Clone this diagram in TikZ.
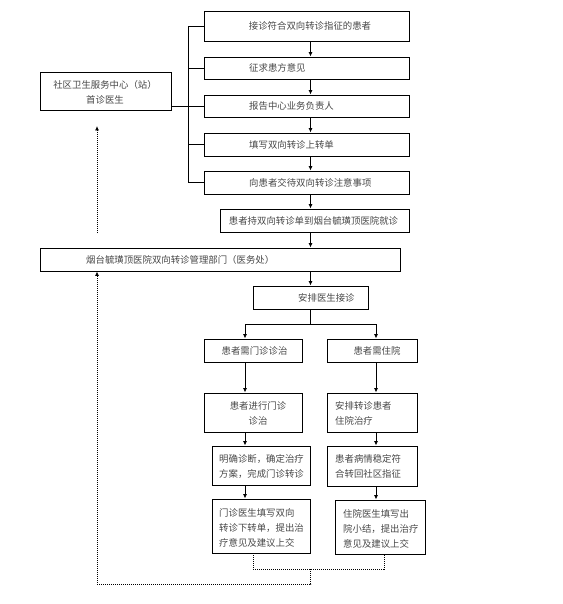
\documentclass[tikz,border=0pt]{standalone}
\usepackage{fontspec}
\newfontfamily\cjk{Noto Sans CJK SC}
\usetikzlibrary{arrows.meta,positioning}

\begin{document}
\begin{tikzpicture}[x=1pt,y=-1pt]
\tikzset{
  stepbox/.style={draw=black,line width=0.9pt,inner sep=0pt},
  boxtext/.style={font=\cjk\fontsize{9.4}{15}\selectfont,text=black!72,inner sep=0pt,align=left},
  link/.style={draw=black,line width=0.9pt},
  flow/.style={link,-{Latex[length=4.5pt,width=4pt]}},
  back/.style={draw=black,line width=0.8pt,dash pattern=on 1pt off 1pt},
  backflow/.style={back,-{Latex[length=4.5pt,width=4pt]}}
}
\useasboundingbox (0,0) rectangle (562,604);
% upper chain (community side)
\node[stepbox,minimum width=131pt,minimum height=38pt] (b0) at (105.5,91) {};
\node[stepbox,minimum width=205pt,minimum height=30pt] (b1) at (306.5,26) {};
\node[stepbox,minimum width=205pt,minimum height=22pt] (b2) at (306.5,68) {};
\node[stepbox,minimum width=205pt,minimum height=22pt] (b3) at (306.5,106) {};
\node[stepbox,minimum width=205pt,minimum height=23pt] (b4) at (306.5,144.5) {};
\node[stepbox,minimum width=205pt,minimum height=23pt] (b5) at (306.5,182.5) {};
\node[stepbox,minimum width=189pt,minimum height=23pt] (b6) at (314.5,220.5) {};
\node[stepbox,minimum width=360pt,minimum height=23pt] (b7) at (220,259.5) {};
\node[stepbox,minimum width=115pt,minimum height=23pt] (b8) at (310.5,297.5) {};
% two branches
\node[stepbox,minimum width=98pt,minimum height=23pt] (b9) at (253,350.5) {};
\node[stepbox,minimum width=90pt,minimum height=23pt] (b10) at (372,350.5) {};
\node[stepbox,minimum width=98pt,minimum height=39pt] (b11) at (253,412.5) {};
\node[stepbox,minimum width=90pt,minimum height=39pt] (b12) at (372,412.5) {};
\node[stepbox,minimum width=98pt,minimum height=39pt] (b13) at (261,465.5) {};
\node[stepbox,minimum width=90pt,minimum height=40pt] (b14) at (372,466) {};
\node[stepbox,minimum width=98pt,minimum height=54pt] (b15) at (261,526) {};
\node[stepbox,minimum width=90pt,minimum height=54pt] (b16) at (380,527) {};
% texts
\node[boxtext,align=center] (t0) at (105,92) {社区卫生服务中心（站）\\首诊医生};
\node[boxtext] (t1) at (310,26) {接诊符合双向转诊指征的患者};
\node[boxtext,anchor=west] (t2) at (249,68) {征求患方意见};
\node[boxtext,anchor=west] (t3) at (249,106) {报告中心业务负责人};
\node[boxtext,anchor=west] (t4) at (249,144.5) {填写双向转诊上转单};
\node[boxtext,anchor=west] (t5) at (249,182.5) {向患者交待双向转诊注意事项};
\node[boxtext] (t6) at (313.5,220.5) {患者持双向转诊单到烟台毓璜顶医院就诊};
\node[boxtext,anchor=west] (t7) at (86,259.5) {烟台毓璜顶医院双向转诊管理部门（医务处）};
\node[boxtext,anchor=west] (t8) at (298,297.5) {安排医生接诊};
\node[boxtext] (t9) at (254.5,350.5) {患者需门诊诊治};
\node[boxtext] (t10) at (377,350.5) {患者需住院};
\node[boxtext,align=center] (t11) at (258,413.5) {患者进行门诊\\诊治};
\node[boxtext,anchor=west] (t12) at (335,413.5) {安排转诊患者\\住院治疗};
\node[boxtext,anchor=west] (t13) at (219,466.5) {明确诊断，确定治疗\\方案，完成门诊转诊};
\node[boxtext,anchor=west] (t14) at (335,466.5) {患者病情稳定符\\合转回社区指征};
\node[boxtext,anchor=west] (t15) at (219,528) {门诊医生填写双向\\转诊下转单，提出治\\疗意见及建议上交};
\node[boxtext,anchor=west] (t16) at (343,529) {住院医生填写出\\院小结，提出治疗\\意见及建议上交};
% helper columns
\coordinate (brk) at (188,0);
\coordinate (spine) at (310.5,0);
\coordinate (lcol) at (245,0);
\coordinate (rcol) at (376,0);
\coordinate (dcol) at (97,0);
\coordinate (fork) at (310.5,324.3);
% bracket to the community box
\draw[link] (b1.west) -- (b1.west -| brk) -- (b5.west -| brk) -- (b5.west);
\draw[link] (b2.west -| brk) -- (b2.west);
\draw[link] (b4.west -| brk) -- (b4.west);
\draw[link] (b0.east |- b3.west) -- (b3.west);
% main arrows
\draw[flow] (b1.south -| spine) -- (b2.north -| spine);
\draw[flow] (b2.south -| spine) -- (b3.north -| spine);
\draw[flow] (b3.south -| spine) -- (b4.north -| spine);
\draw[flow] (b4.south -| spine) -- (b5.north -| spine);
\draw[flow] (b5.south -| spine) -- (b6.north -| spine);
\draw[flow] (b6.south -| spine) -- (b7.north -| spine);
\draw[flow] (b7.south -| spine) -- (b8.north -| spine);
\draw[link] (b8.south -| spine) -- (fork);
\draw[flow] (fork) -| (b9.north -| lcol);
\draw[flow] (fork) -| (b10.north -| rcol);
\draw[flow] (b9.south -| lcol) -- (b11.north -| lcol);
\draw[flow] (b11.south -| lcol) -- (b13.north -| lcol);
\draw[flow] (b13.south -| lcol) -- (b15.north -| lcol);
\draw[flow] (b10.south -| rcol) -- (b12.north -| rcol);
\draw[flow] (b12.south -| rcol) -- (b14.north -| rcol);
\draw[flow] (b14.south -| rcol) -- (b16.north -| rcol);
% dotted return path
\coordinate (jl) at (253,569);
\coordinate (jr) at (384,569);
\coordinate (jm) at (310.5,569);
\coordinate (jb) at (310.5,584);
\coordinate (up1) at (97,233);
\coordinate (up2) at (97,126);
\draw[back] (b15.south -| jl) -- (jl) -- (jr) -- (b16.south -| jr);
\draw[backflow] (jm) -- (jb) -| (b7.south -| dcol);
\draw[backflow] (up1) -- (up2);
\end{tikzpicture}
\end{document}
